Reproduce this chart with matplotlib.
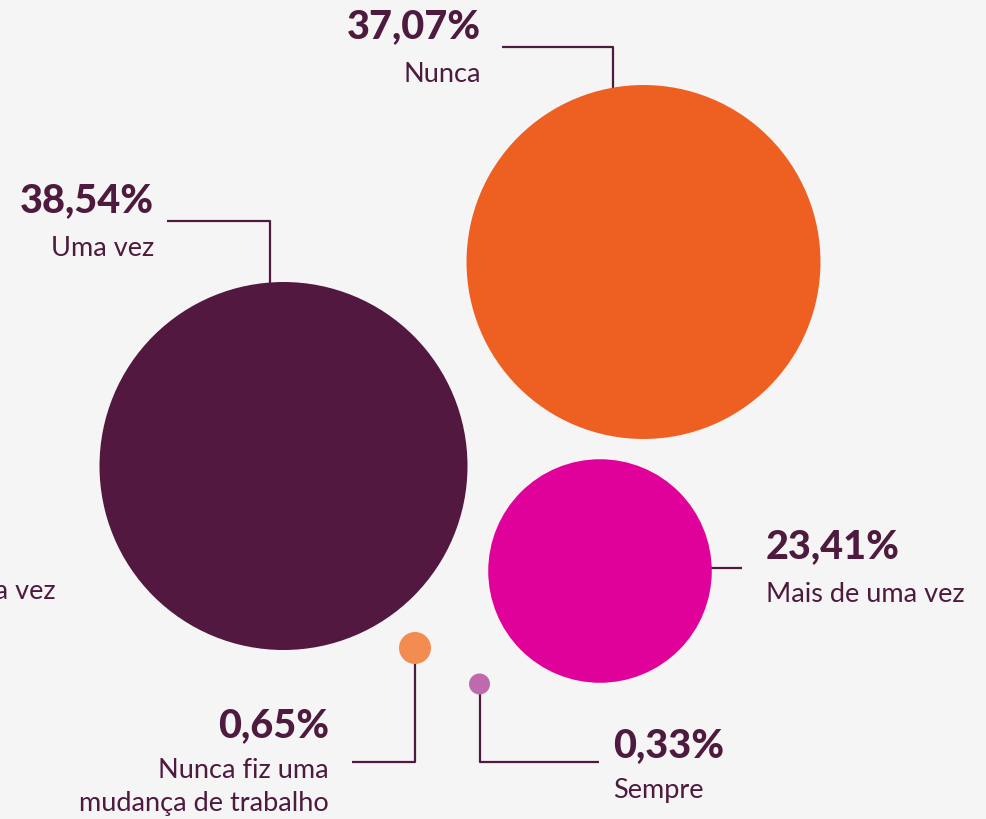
import matplotlib.pyplot as plt
from matplotlib.patches import Circle

# dados
labels = ["Nunca", "Uma vez", "Mais de uma vez", "Nunca fiz uma\nmudança de trabalho", "Sempre"]
values = [37.07, 38.54, 23.41, 0.65, 0.33]
colors = ["#EE6022", "#521840", "#E0009A", "#F28C50", "#C06AAE"]

# layout em pixels (imagem 987x819)
centers = [(643.5, 262), (283.5, 466), (600, 571), (415, 648), (479.5, 684)]
min_r = [0, 0, 0, 16, 10.5]
scale = 184 / 38.54  # raio proporcional ao valor

# linhas guia e posição do texto
leaders = [
    [(502, 46.5), (612.5, 46.5), (612.5, 95)],
    [(167, 220.5), (270, 220.5), (270, 300)],
    [(711, 567.5), (742, 567.5)],
    [(415, 660), (415, 762), (352, 762)],
    [(479.5, 690), (479.5, 762), (599, 762)],
]
text_pos = [(481, 38, 82, "right"), (154, 212, 256, "right"), (766, 558, 602, "left"),
            (329, 737, 778, "right"), (613, 757, 798, "left")]
line_step = 33

dark = "#4E1A3E"
bg = "#F5F5F5"

plt.rcParams['font.family'] = ['Lato', 'DejaVu Sans']

fig = plt.figure(figsize=(9.87, 8.19), dpi=100, facecolor=bg)
ax = fig.add_axes([0, 0, 1, 1])
ax.set_facecolor(bg)
ax.set_xlim(0, 987)
ax.set_ylim(819, 0)
ax.set_aspect('equal')
ax.axis('off')

for pts in leaders:
    xs = [p[0] for p in pts]
    ys = [p[1] for p in pts]
    ax.plot(xs, ys, color=dark, lw=1.6, solid_capstyle='butt', zorder=1)

for (cx, cy), v, c, mr in zip(centers, values, colors, min_r):
    r = max(v * scale, mr)
    ax.add_patch(Circle((cx, cy), r, facecolor=c, edgecolor='none', zorder=2))

for lab, v, (x, y1, y2, ha) in zip(labels, values, text_pos):
    pct = f"{v:.2f}%".replace(".", ",")
    ax.text(x, y1, pct, ha=ha, va='baseline', fontsize=28.5, fontweight='black', color=dark)
    for i, line in enumerate(lab.split("\n")):
        ax.text(x, y2 + i * line_step, line, ha=ha, va='baseline', fontsize=19.5, color=dark)

# rótulo cortado na borda esquerda (como no original)
ax.text(56, 599, "Mais de uma vez", ha='right', va='baseline', fontsize=19.5, color=dark)

fig.savefig("out.png", dpi=100, facecolor=bg)
